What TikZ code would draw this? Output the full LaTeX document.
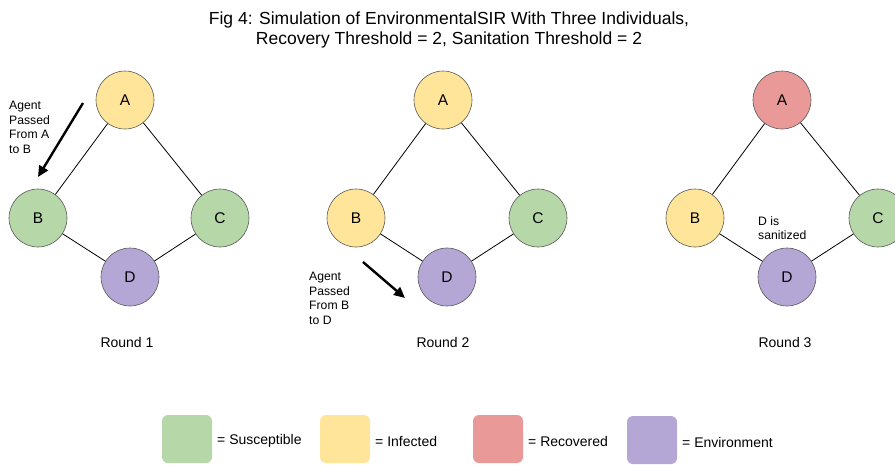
\documentclass[tikz,border=0pt]{standalone}
\usepackage{fontspec}
\setmainfont{Liberation Sans}
\usetikzlibrary{arrows.meta}
\definecolor{sus}{HTML}{B6D7A8}
\definecolor{inf}{HTML}{FFE599}
\definecolor{rec}{HTML}{EA9999}
\definecolor{env}{HTML}{B4A7D6}
\definecolor{rim}{HTML}{595959}
\begin{document}
\begin{tikzpicture}[x=1pt,y=-1pt,
  person/.style={circle,draw=rim,line width=0.6pt,minimum size=58pt,inner sep=0pt,font=\fontsize{15.5}{17}\selectfont},
  link/.style={draw=black,line width=0.8pt},
  passarrow/.style={line width=2.4pt,-{Triangle[length=11pt,width=10pt]}},
  note/.style={anchor=north west,align=left,inner sep=0pt,font=\fontsize{12.2}{14.7}\selectfont},
  roundlbl/.style={font=\fontsize{14}{16}\selectfont},
  legbox/.style={rounded corners=6pt,minimum width=50pt,minimum height=48pt,inner sep=0pt},
  legtxt/.style={anchor=west,inner sep=0pt,font=\fontsize{14}{16}\selectfont}]
\useasboundingbox (0,0) rectangle (895,464);
\clip (0,0) rectangle (895,464);
% title
\node[align=center,font=\fontsize{17.5}{20.5}\selectfont] (title) at (449,30) {Fig 4: Simulation of EnvironmentalSIR With Three Individuals,\\Recovery Threshold = 2, Sanitation Threshold = 2};
% Round 1
\node[person,fill=inf] (a1) at (125,100) {A};
\node[person,fill=sus] (b1) at (38,218) {B};
\node[person,fill=sus] (c1) at (220,218) {C};
\node[person,fill=env] (d1) at (130,277) {D};
\draw[link] (a1) -- (b1);
\draw[link] (a1) -- (c1);
\draw[link] (b1) -- (d1);
\draw[link] (c1) -- (d1);
\coordinate (s1) at (83,103);
\coordinate (e1) at (38,177);
\draw[passarrow] (s1) -- (e1);
\node[note] (n1) at (9,101) {Agent\\Passed\\From A\\to B};
\node[roundlbl] (r1) at (127,342) {Round 1};
% Round 2
\node[person,fill=inf] (a2) at (443,100) {A};
\node[person,fill=inf] (b2) at (356,218) {B};
\node[person,fill=sus] (c2) at (538,218) {C};
\node[person,fill=env] (d2) at (447,277) {D};
\draw[link] (a2) -- (b2);
\draw[link] (a2) -- (c2);
\draw[link] (b2) -- (d2);
\draw[link] (c2) -- (d2);
\coordinate (s2) at (363,262);
\coordinate (e2) at (405,298);
\draw[passarrow] (s2) -- (e2);
\node[note] (n2) at (309,272) {Agent\\Passed\\From B\\to D};
\node[roundlbl] (r2) at (443,342) {Round 2};
% Round 3
\node[person,fill=rec] (a3) at (782,100) {A};
\node[person,fill=inf] (b3) at (695,218) {B};
\node[person,fill=sus] (c3) at (878,218) {C};
\node[person,fill=env] (d3) at (787,277) {D};
\draw[link] (a3) -- (b3);
\draw[link] (a3) -- (c3);
\draw[link] (b3) -- (d3);
\draw[link] (c3) -- (d3);
\node[note] (n3) at (758,216) {D is\\sanitized};
\node[roundlbl] (r3) at (785,342) {Round 3};
% legend
\node[legbox,fill=sus] (ls) at (187,439) {};
\node[legtxt] (lst) at (217,441) {= Susceptible};
\node[legbox,fill=inf] (li) at (345,439) {};
\node[legtxt] (lit) at (375,441) {= Infected};
\node[legbox,fill=rec] (lr) at (498,439) {};
\node[legtxt] (lrt) at (528,441) {= Recovered};
\node[legbox,fill=env] (le) at (652,440) {};
\node[legtxt] (let) at (682,442) {= Environment};
\end{tikzpicture}
\end{document}
